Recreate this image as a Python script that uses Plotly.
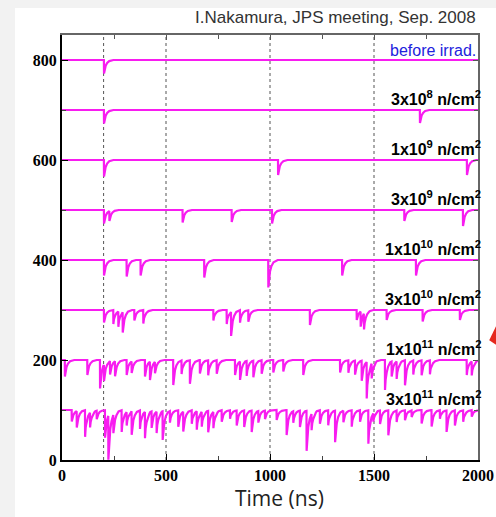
import numpy as np
import plotly.graph_objects as go

# ---------------- data ----------------
baselines = [800, 700, 600, 500, 400, 300, 200, 100]
labels = ["before irrad.",
          "3x10<sup>8</sup> n/cm<sup>2</sup>",
          "1x10<sup>9</sup> n/cm<sup>2</sup>",
          "3x10<sup>9</sup> n/cm<sup>2</sup>",
          "1x10<sup>10</sup> n/cm<sup>2</sup>",
          "3x10<sup>10</sup> n/cm<sup>2</sup>",
          "1x10<sup>11</sup> n/cm<sup>2</sup>",
          "3x10<sup>11</sup> n/cm<sup>2</sup>"]

# pulse (dip) times in ns and depths for each waveform
t_800 = [202]
d_800 = [27]
t_700 = [202, 1721]
d_700 = [27, 26]
t_600 = [202, 1039, 1947]
d_600 = [33, 30, 30]
t_500 = [202, 228, 580, 816, 1010, 1646, 1928]
d_500 = [27, 20, 25, 24, 27, 22, 32]
t_400 = [202, 311, 378, 684, 992, 1347, 1702]
d_400 = [31, 33, 31, 35, 55, 31, 31]
t_300 = [202, 247, 271, 292, 348, 391, 728, 792, 813, 856, 896, 1192,
         1417, 1436, 1452, 1561, 1734, 1913]
d_300 = [25, 28, 31, 41, 21, 27, 21, 28, 48, 25, 23, 30,
         20, 30, 32, 20, 23, 20]
t_200 = [14, 122, 183, 202, 231, 255, 311, 335, 399, 423, 447, 535, 575,
         615, 663, 703, 744, 832, 856, 888, 920, 960, 1016, 1064, 1160,
         1337, 1377, 1409, 1441, 1465, 1489, 1553, 1585, 1609, 1649, 1689,
         1729, 1769, 1946, 1970]
d_200 = [33, 30, 57, 33, 27, 30, 30, 23, 33, 37, 23, 50, 27,
         47, 27, 30, 27, 30, 37, 30, 33, 27, 25, 23, 30,
         25, 25, 28, 40, 73, 30, 60, 30, 35, 50, 28,
         30, 28, 30, 28]
t_100 = [47, 71, 111, 135, 167, 207, 223, 247, 287, 311, 335, 375, 399,
         431, 455, 484, 519, 559, 583, 624, 648, 672, 703, 728, 768, 808,
         840, 876, 912, 944, 976, 1032, 1080, 1112, 1144, 1176, 1200, 1240,
         1280, 1313, 1353, 1393, 1433, 1473, 1497, 1529, 1569, 1609, 1649,
         1681, 1729, 1777, 1817, 1849, 1889, 1929, 1970]
d_100 = [23, 33, 53, 30, 17, 55, 88, 37, 43, 27, 47, 37, 53,
         33, 43, 57, 23, 33, 40, 27, 37, 30, 43, 33, 23, 17,
         30, 33, 43, 23, 17, 20, 50, 23, 33, 80, 33, 27,
         30, 63, 23, 33, 23, 67, 17, 27, 50, 23, 20,
         13, 27, 33, 17, 43, 30, 23, 13]

pulse_times = [t_800, t_700, t_600, t_500, t_400, t_300, t_200, t_100]
pulse_depths = [d_800, d_700, d_600, d_500, d_400, d_300, d_200, d_100]

grid_times = [200, 500, 1000, 1500]
x_ticks = [0, 500, 1000, 1500, 2000]
y_ticks = [0, 200, 400, 600, 800]

# ---------------- style ----------------
MAG = "#f81cf0"
PULSE_OFF = np.array([-0.6, 0.0, 3.0, 8.0, 15.0, 25.0, 45.0])
PULSE_FRAC = np.array([0.0, 1.0, 0.65, 0.42, 0.22, 0.08, 0.0])


def waveform(base, times, depths):
    tv = [0.0, 2000.0]
    for t in times:
        tv.extend(list(t + PULSE_OFF))
    tv = np.unique(np.clip(np.array(tv), 0, 2000))
    y = np.full(tv.shape, float(base))
    for t, d in zip(times, depths):
        y -= d * np.interp(tv - t, PULSE_OFF, PULSE_FRAC, left=0.0, right=0.0)
    return tv, y


fig = go.Figure()
for base, ts, ds in zip(baselines, pulse_times, pulse_depths):
    x, y = waveform(base, ts, ds)
    fig.add_trace(go.Scatter(x=x, y=y, mode="lines",
                             line=dict(color=MAG, width=2.2),
                             showlegend=False, hoverinfo="skip"))

# invisible trace to activate the mirror axes (top / right)
fig.add_trace(go.Scatter(x=[None], y=[None], xaxis="x2", yaxis="y2",
                         showlegend=False, hoverinfo="skip"))

tick_font = dict(family="Liberation Serif", size=16, color="black", weight="bold")

fig.update_layout(
    width=496, height=517, autosize=False,
    margin=dict(l=62, r=18, t=35, b=57),
    paper_bgcolor="#f2f2f2",
    plot_bgcolor="white",
    xaxis=dict(range=[0, 2000], tickvals=x_ticks, ticks="inside", ticklen=6,
               tickwidth=1, tickcolor="black", showline=True, linecolor="black",
               linewidth=2, showgrid=False, zeroline=False, tickfont=tick_font,
               automargin=False, ticklabeloverflow="allow",
               minor=dict(dtick=250, tick0=0, ticks="inside", ticklen=4,
                          tickcolor="#444")),
    yaxis=dict(range=[0, 850], tickvals=y_ticks, ticks="inside", ticklen=6,
               tickwidth=1, tickcolor="black", showline=True, linecolor="black",
               linewidth=2, showgrid=False, zeroline=False, tickfont=tick_font,
               automargin=False, ticklabeloverflow="allow",
               minor=dict(dtick=100, tick0=0, ticks="inside", ticklen=4,
                          tickcolor="#444")),
    xaxis2=dict(range=[0, 2000], overlaying="x", side="top", tickvals=x_ticks,
                ticks="inside", ticklen=5, tickcolor="#555", showticklabels=False,
                showline=True, linecolor="#666", linewidth=1.5, showgrid=False,
                zeroline=False, automargin=False,
                minor=dict(dtick=250, tick0=0, ticks="inside", ticklen=4,
                           tickcolor="#555")),
    yaxis2=dict(range=[0, 850], overlaying="y", side="right", tickvals=y_ticks,
                ticks="inside", ticklen=5, tickcolor="#555", showticklabels=False,
                showline=True, linecolor="#666", linewidth=2, showgrid=False,
                zeroline=False, automargin=False,
                minor=dict(dtick=100, tick0=0, ticks="inside", ticklen=4,
                           tickcolor="#555")),
)

shapes = [
    dict(type="rect", xref="paper", yref="paper", x0=-0.113, x1=1.1,
         y0=-0.14, y1=1.0635, fillcolor="white", line=dict(width=0),
         layer="below"),
    dict(type="path", xref="paper", yref="paper",
         path="M 1.027 0.282 L 1.045 0.318 L 1.045 0.27 Z",
         fillcolor="#e5281e", line=dict(width=0)),
]
for g in grid_times:
    shapes.append(dict(type="line", xref="x", yref="paper", x0=g, x1=g,
                       y0=0, y1=1, line=dict(color="#555", width=1, dash="dot"),
                       layer="below"))
fig.update_layout(shapes=shapes)

ann = []
for i, (base, lab) in enumerate(zip(baselines, labels)):
    if i == 0:
        ann.append(dict(x=1.0, xref="paper", y=base + 20, yref="y", text=lab,
                        xanchor="right", yanchor="middle", showarrow=False,
                        font=dict(family="Liberation Sans", size=16,
                                  color="#2222dd")))
    else:
        ann.append(dict(x=1.012, xref="paper", y=base + 25, yref="y", text=lab,
                        xanchor="right", yanchor="middle", showarrow=False,
                        font=dict(family="Liberation Sans", size=16,
                                  color="black", weight="bold")))
ann.append(dict(x=1.0, xref="paper", y=1.042, yref="paper",
                text="I.Nakamura, JPS meeting, Sep. 2008", xanchor="right",
                yanchor="middle", showarrow=False,
                font=dict(family="Liberation Sans", size=17, color="#333")))
ann.append(dict(x=0.524, xref="paper", y=-0.09, yref="paper",
                text="Time (ns)", xanchor="center", yanchor="middle",
                showarrow=False,
                font=dict(family="Open Sans", size=21, color="#222")))
fig.update_layout(annotations=ann)

fig.write_html("out.html",
               config={"responsive": False, "displayModeBar": False},
               post_script="document.body.style.margin='0px';"
                           "document.body.style.overflow='hidden';")
